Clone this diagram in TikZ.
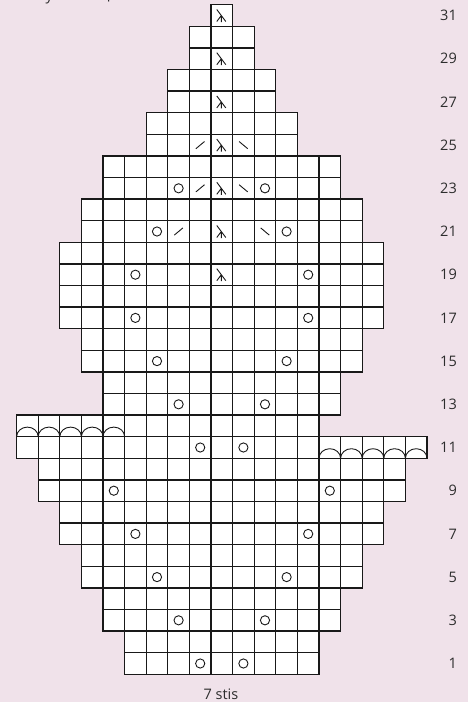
\documentclass[tikz,border=0pt]{standalone}
\usepackage{fontspec}
\setmainfont{Open Sans}
\definecolor{bg}{RGB}{240,226,234}
\definecolor{ink}{RGB}{25,25,25}
\definecolor{txt}{RGB}{45,45,45}
\begin{document}
\begin{tikzpicture}[x=1pt,y=-1pt,
  sym/.style={line width=0.9pt,draw=ink},
  lbl/.style={font=\fontsize{14.5}{16}\selectfont,text=txt,inner sep=0pt},
  yo/.pic={\draw[sym] (0,0) circle (4.6pt);},
  decr/.pic={\draw[sym] (-5,-6) -- (4,6) (-0.5,0) -- (-5,6) (-0.5,0) -- (-0.5,6.5);},
  rslash/.pic={\draw[sym] (-4.3,3.6) -- (4.3,-3.6);},
  lslash/.pic={\draw[sym] (-4.3,-3.6) -- (4.3,3.6);},
  halfarc/.pic={\draw[line width=0.9pt,draw=ink] (0,0) arc[start angle=180,end angle=0,x radius=10.8pt,y radius=9.6pt];}
]
\fill[bg] (0,0) rectangle (468,702);
\useasboundingbox (0,0) rectangle (468,702);
\def\rows{1/-4/4,2/-4/4,3/-5/5,4/-5/5,5/-6/6,6/-6/6,7/-7/7,8/-7/7,9/-8/8,10/-8/8,11/-9/9,12/-9/4,13/-5/5,14/-5/5,15/-6/6,16/-6/6,17/-7/7,18/-7/7,19/-7/7,20/-7/7,21/-6/6,22/-6/6,23/-5/5,24/-5/5,25/-3/3,26/-3/3,27/-2/2,28/-2/2,29/-1/1,30/-1/1,31/0/0}
% white cells
\foreach \r/\a/\b in \rows {
  \pgfmathsetmacro\yt{4.7+21.6*(31-\r)}
  \pgfmathsetmacro\yb{\yt+21.6}
  \pgfmathsetmacro\xl{211+21.6*\a}
  \pgfmathsetmacro\xr{211+21.6*(\b+1)}
  \fill[white] (\xl,\yt) rectangle (\xr,\yb);
}
% arcs (bind-off marks)
\foreach \c in {-9,...,-5} {
  \path ({211+21.6*\c},{4.7+21.6*(31-12)+21.6}) pic {halfarc};
}
\foreach \c in {5,...,9} {
  \path ({211+21.6*\c},{4.7+21.6*(31-11)+21.6}) pic {halfarc};
}
% grid lines
\foreach \r/\a/\b in \rows {
  \pgfmathsetmacro\yt{4.7+21.6*(31-\r)}
  \pgfmathsetmacro\yb{\yt+21.6}
  \pgfmathtruncatemacro\bb{\b+1}
  \foreach \c in {\a,...,\bb} {
    \pgfmathsetmacro\xc{211+21.6*\c}
    \pgfmathsetmacro\lw{1.3-0.75*(\c==-1)*(\a<-1)}
    \draw[line width=\lw pt,draw=ink] (\xc,\yt) -- (\xc,\yb);
  }
}
\foreach \r/\a/\b in \rows {
  \pgfmathsetmacro\yt{4.7+21.6*(31-\r)}
  \pgfmathsetmacro\yb{\yt+21.6}
  \pgfmathsetmacro\xl{211+21.6*\a}
  \pgfmathsetmacro\xr{211+21.6*(\b+1)}
  \draw[line width=1.3pt,line cap=rect,draw=ink] (\xl,\yt) -- (\xr,\yt) (\xl,\yb) -- (\xr,\yb);
}
% yarn overs
\foreach \r/\c in {1/-1,1/1,3/-2,3/2,5/-3,5/3,7/-4,7/4,9/-5,9/5,11/-1,11/1,13/-2,13/2,15/-3,15/3,17/-4,17/4,19/-4,19/4,21/-3,21/3,23/-2,23/2} {
  \path ({221.8+21.6*\c},{15.5+21.6*(31-\r)}) pic {yo};
}
% central double decreases
\foreach \r in {19,21,23,25,27,29,31} {
  \path (221.8,{15.5+21.6*(31-\r)}) pic {decr};
}
% k2tog / ssk
\foreach \r/\c in {21/-2,23/-1,25/-1} {
  \path ({221.8+21.6*\c},{15.5+21.6*(31-\r)}) pic {rslash};
}
\foreach \r/\c in {21/2,23/1,25/1} {
  \path ({221.8+21.6*\c},{15.5+21.6*(31-\r)}) pic {lslash};
}
% row numbers
\foreach \r in {1,3,...,31} {
  \node[lbl,anchor=east] (row\r) at (457,{15.5+21.6*(31-\r)}) {\r};
}
\node[lbl] (repeat) at (221,694) {7 stis};
% fragments of the cut-off caption above the chart
\node[lbl,anchor=base west] (capy) at (45.5,0.2) {y};
\node[lbl,anchor=base west] (capp) at (106.6,-1.8) {p};
\end{tikzpicture}
\end{document}
